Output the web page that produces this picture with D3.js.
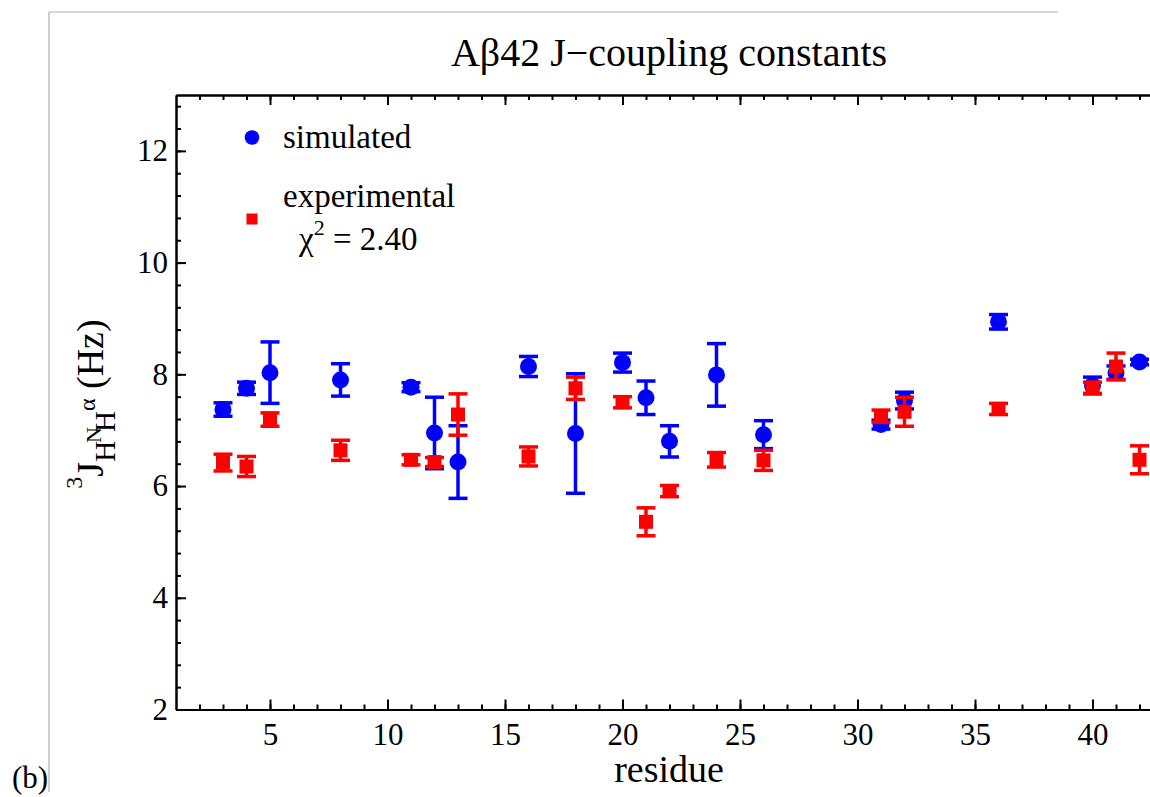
<!DOCTYPE html>
<meta charset="utf-8">
<style>
	body { margin: 0; background: #fff; }
</style>
<body>
<script src="https://d3js.org/d3.v7.min.js"></script>
<script>
// residues with J-coupling values
var residues = [3, 4, 5, 8, 11, 12, 13, 16, 18, 20, 21, 22, 24, 26, 31, 32, 36, 40, 41, 42];
var simulated = [7.37, 7.75, 8.03, 7.90, 7.77, 6.95, 6.43, 8.14, 6.94, 8.21, 7.58, 6.80, 7.99, 6.92, 7.10, 7.53, 8.94, 7.80, 8.03, 8.22];
var simErr = [0.12, 0.11, 0.55, 0.29, 0.08, 0.64, 0.65, 0.18, 1.07, 0.17, 0.30, 0.28, 0.56, 0.25, 0.08, 0.15, 0.13, 0.15, 0.12, 0.05];
var experimental = [6.42, 6.35, 7.19, 6.64, 6.47, 6.43, 7.28, 6.53, 7.75, 7.50, 5.36, 5.91, 6.47, 6.46, 7.25, 7.33, 7.38, 7.76, 8.14, 6.47];
var expErr = [0.15, 0.18, 0.12, 0.18, 0.09, 0.08, 0.37, 0.17, 0.20, 0.10, 0.25, 0.10, 0.13, 0.18, 0.11, 0.26, 0.10, 0.10, 0.24, 0.25];

var xMajor = [5, 10, 15, 20, 25, 30, 35, 40];
var yMajor = [2, 4, 6, 8, 10, 12];
var xMinor = d3.range(2, 43, 1);
var yMinor = d3.range(0, 28).map(function(i) { return +(2 + i * 0.4).toFixed(1); });

var font = "Liberation Serif";

var margin = {top: 95, left: 176},
    width = 987,
    height = 614.5;

var svg = d3.select("body").append("svg")
    .attr("width", 1150)
    .attr("height", 797)
    .attr("font-family", font);

// grey frame of the original figure
svg.append("line").attr("x1", 49).attr("x2", 1058).attr("y1", 12).attr("y2", 12)
	.attr("stroke", "#b0b0b0").attr("stroke-width", 1.2);
svg.append("line").attr("x1", 49).attr("x2", 49).attr("y1", 12).attr("y2", 792)
	.attr("stroke", "#b0b0b0").attr("stroke-width", 1.2);

var g = svg.append("g")
    .attr("transform", "translate(" + margin.left + "," + margin.top + ")");

var x = d3.scaleLinear().domain([1, 43]).range([0, width]);
var y = d3.scaleLinear().domain([2, 13]).range([height, 0]);

// minor ticks on all four sides
g.append("g").attr("class", "axis").attr("transform", "translate(0," + height + ")")
	.call(d3.axisBottom(x).tickValues(xMinor).tickSize(-5).tickSizeOuter(0).tickFormat(""));
g.append("g").attr("class", "axis")
	.call(d3.axisTop(x).tickValues(xMinor).tickSize(-5).tickSizeOuter(0).tickFormat(""));
g.append("g").attr("class", "axis")
	.call(d3.axisLeft(y).tickValues(yMinor).tickSize(-5).tickSizeOuter(0).tickFormat(""));
g.append("g").attr("class", "axis").attr("transform", "translate(" + width + ",0)")
	.call(d3.axisRight(y).tickValues(yMinor).tickSize(-5).tickSizeOuter(0).tickFormat(""));

// major ticks + labels
g.append("g").attr("class", "axis").attr("transform", "translate(0," + height + ")")
	.call(d3.axisBottom(x).tickValues(xMajor).tickSize(-10).tickSizeOuter(0).tickPadding(13));
g.append("g").attr("class", "axis")
	.call(d3.axisTop(x).tickValues(xMajor).tickSize(-10).tickSizeOuter(0).tickFormat(""));
g.append("g").attr("class", "axis")
	.call(d3.axisLeft(y).tickValues(yMajor).tickSize(-10).tickSizeOuter(0).tickPadding(8));
g.append("g").attr("class", "axis").attr("transform", "translate(" + width + ",0)")
	.call(d3.axisRight(y).tickValues(yMajor).tickSize(-10).tickSizeOuter(0).tickFormat(""));

g.selectAll(".axis").attr("font-family", font).attr("font-size", 31);
g.selectAll(".axis text").attr("fill", "#000");
g.selectAll(".axis path, .axis line").attr("stroke", "#000").attr("stroke-width", 2);

// error bars + markers
function errorBars(vals, errs, color) {
	var eb = g.append("g").attr("stroke", color).attr("stroke-width", 3.5);
	residues.forEach(function(r, i) {
		var cx = x(r), y0 = y(vals[i] - errs[i]), y1 = y(vals[i] + errs[i]);
		eb.append("line").attr("x1", cx).attr("x2", cx).attr("y1", y0).attr("y2", y1);
		eb.append("line").attr("x1", cx - 9.5).attr("x2", cx + 9.5).attr("y1", y0).attr("y2", y0);
		eb.append("line").attr("x1", cx - 9.5).attr("x2", cx + 9.5).attr("y1", y1).attr("y2", y1);
	});
}

errorBars(simulated, simErr, "#0000ff");
g.append("g").selectAll("circle")
	.data(residues)
	.enter().append("circle")
	.attr("cx", function(d) { return x(d); })
	.attr("cy", function(d, i) { return y(simulated[i]); })
	.attr("r", 8.5)
	.attr("fill", "#0000ff");

errorBars(experimental, expErr, "#ff0000");
g.append("g").selectAll("rect")
	.data(residues)
	.enter().append("rect")
	.attr("x", function(d) { return x(d) - 7; })
	.attr("y", function(d, i) { return y(experimental[i]) - 7; })
	.attr("width", 14)
	.attr("height", 14)
	.attr("fill", "#ff0000");

// legend
svg.append("circle").attr("cx", 252).attr("cy", 137.5).attr("r", 7.3).attr("fill", "#0000ff");
svg.append("rect").attr("x", 246.5).attr("y", 213.5).attr("width", 11).attr("height", 11).attr("fill", "#ff0000");
svg.append("text").attr("x", 283).attr("y", 148).attr("font-size", 33).text("simulated");
svg.append("text").attr("x", 283).attr("y", 207).attr("font-size", 33).text("experimental");
var chi = svg.append("text").attr("x", 299).attr("y", 250).attr("font-size", 33);
chi.append("tspan").text("χ");
chi.append("tspan").attr("dy", -15).attr("font-size", 22).text("2");
chi.append("tspan").attr("dy", 15).text(" = 2.40");

// title
svg.append("text").attr("x", 669).attr("y", 66).attr("text-anchor", "middle")
	.attr("font-size", 40).text("Aβ42 J−coupling constants");

// x label
svg.append("text").attr("x", 669).attr("y", 782).attr("text-anchor", "middle")
	.attr("font-size", 38).text("residue");

svg.append("text").attr("x", 12).attr("y", 788).attr("font-size", 31).text("(b)");

// y label: 3J_{H^N H^alpha} (Hz)
var yl = svg.append("text").attr("transform", "translate(103,404) rotate(-90)")
	.attr("text-anchor", "middle").attr("font-size", 38);
yl.append("tspan").attr("dy", -21).attr("font-size", 24).text("3");
yl.append("tspan").attr("dy", 21).text("J");
yl.append("tspan").attr("dy", 12).attr("font-size", 29).text("H");
yl.append("tspan").attr("dy", -14).attr("dx", -2).attr("font-size", 22).text("N");
yl.append("tspan").attr("dy", 14).attr("dx", -5).attr("font-size", 29).text("H");
yl.append("tspan").attr("dy", -20).attr("font-size", 24).text("α");
yl.append("tspan").attr("dy", 8).text(" (Hz)");
</script>
</body>
